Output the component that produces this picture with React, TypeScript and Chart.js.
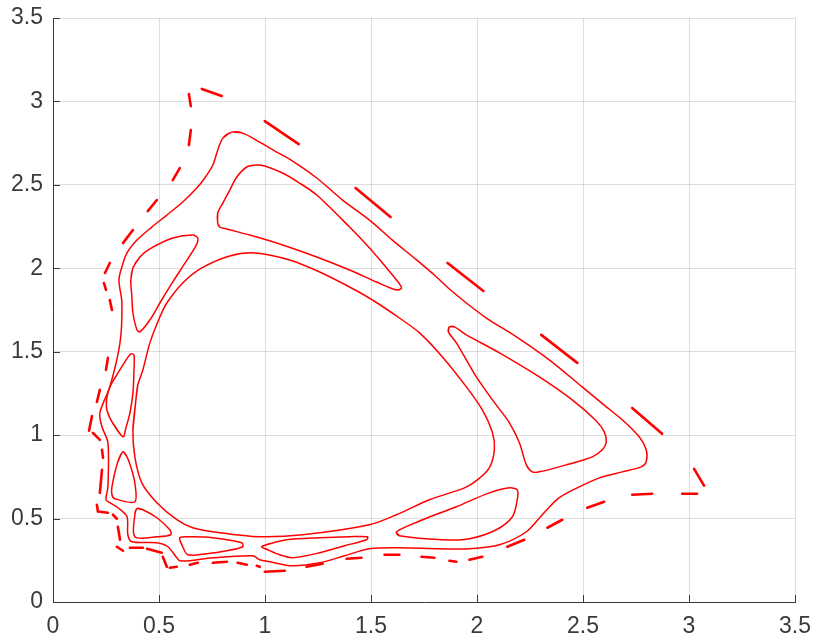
import React, { useEffect, useRef } from "react";
import { Chart, registerables } from "chart.js";

Chart.register(...registerables);

const xTicks = [0, 0.5, 1, 1.5, 2, 2.5, 3, 3.5];
const yTicks = [0, 0.5, 1, 1.5, 2, 2.5, 3, 3.5];

// outer continuous orbit
const outerX = [0.843,0.895,0.975,1.055,1.116,1.244,1.366,1.493,1.601,1.715,1.809,1.870,1.950,2.044,2.186,2.341,2.496,2.610,2.685,2.765,2.798,2.798,2.774,2.685,2.577,2.482,2.388,2.308,2.233,2.106,1.964,1.823,1.634,1.493,1.375,1.258,1.130,1.022,0.975,0.942,0.754,0.645,0.598,0.584,0.542,0.490,0.372,0.353,0.349,0.306,0.268,0.250,0.259,0.259,0.231,0.221,0.268,0.316,0.325,0.311,0.325,0.349,0.396,0.466,0.537,0.612,0.678,0.716,0.754,0.777,0.801];
const outerY = [2.816,2.810,2.756,2.696,2.654,2.541,2.409,2.289,2.169,2.050,1.948,1.876,1.792,1.702,1.589,1.451,1.289,1.169,1.092,0.990,0.912,0.840,0.810,0.780,0.744,0.690,0.625,0.523,0.421,0.343,0.319,0.319,0.325,0.319,0.277,0.235,0.217,0.241,0.253,0.277,0.265,0.247,0.247,0.265,0.331,0.355,0.361,0.403,0.511,0.565,0.595,0.613,0.690,0.954,1.050,1.134,1.289,1.553,1.792,1.930,2.008,2.092,2.169,2.247,2.319,2.397,2.481,2.541,2.619,2.708,2.780];

// central loop
const centerX = [0.391,0.400,0.424,0.457,0.504,0.537,0.612,0.702,0.834,0.951,1.116,1.258,1.399,1.507,1.634,1.729,1.837,1.950,2.025,2.073,2.082,2.058,2.002,1.941,1.776,1.620,1.493,1.178,0.975,0.787,0.659,0.584,0.490,0.419,0.386,0.377];
const centerY = [1.211,1.301,1.391,1.553,1.708,1.792,1.912,2.002,2.074,2.092,2.050,1.978,1.888,1.810,1.702,1.613,1.469,1.289,1.152,1.014,0.912,0.804,0.732,0.684,0.613,0.523,0.463,0.403,0.391,0.415,0.445,0.493,0.595,0.714,0.870,1.032];

// islands
const topIslandX = [0.777,0.777,0.801,0.834,0.867,0.914,0.961,0.999,1.083,1.163,1.244,1.399,1.493,1.554,1.620,1.644,1.620,1.526,1.399,1.244,1.083,0.928,0.820,0.787];
const topIslandY = [2.271,2.331,2.391,2.469,2.547,2.607,2.619,2.613,2.571,2.511,2.439,2.247,2.122,2.032,1.930,1.882,1.870,1.918,1.990,2.068,2.140,2.199,2.235,2.247];

const rightIslandX = [1.870,1.894,1.950,2.106,2.294,2.449,2.562,2.600,2.610,2.591,2.544,2.421,2.294,2.261,2.233,2.200,2.153,2.073,1.997,1.903,1.865];
const rightIslandY = [1.649,1.649,1.601,1.493,1.349,1.211,1.086,1.020,0.960,0.912,0.870,0.822,0.780,0.780,0.822,0.954,1.074,1.211,1.349,1.553,1.619];

const bottomRightX = [1.620,1.743,1.903,2.058,2.153,2.190,2.190,2.167,2.091,1.964,1.837,1.634];
const bottomRightY = [0.421,0.493,0.571,0.654,0.684,0.672,0.613,0.511,0.433,0.379,0.373,0.397];

const bottomMidX = [0.984,1.022,1.102,1.258,1.399,1.484,1.479,1.375,1.258,1.130,1.069,1.013];
const bottomMidY = [0.331,0.349,0.373,0.385,0.391,0.391,0.373,0.337,0.295,0.265,0.283,0.313];

const bottomLeftX = [0.598,0.612,0.636,0.725,0.820,0.895,0.890,0.754,0.659];
const bottomLeftY = [0.385,0.331,0.283,0.289,0.307,0.331,0.355,0.385,0.391];

const cornerX = [0.396,0.386,0.386,0.490,0.556,0.551,0.490,0.424];
const cornerY = [0.559,0.523,0.391,0.391,0.403,0.433,0.505,0.553];

const leftLowX = [0.330,0.306,0.278,0.278,0.292,0.386,0.386,0.367,0.349];
const leftLowY = [0.900,0.840,0.690,0.643,0.619,0.601,0.714,0.810,0.870];

const leftMidX = [0.330,0.278,0.254,0.254,0.268,0.301,0.339,0.367,0.382,0.382,0.377,0.363,0.344];
const leftMidY = [0.990,1.080,1.152,1.223,1.289,1.361,1.439,1.487,1.481,1.391,1.253,1.134,1.044];

const leftTopX = [0.377,0.410,0.457,0.565,0.659,0.683,0.674,0.617,0.565,0.504,0.457,0.410,0.396,0.377,0.372,0.367];
const leftTopY = [2.002,2.068,2.116,2.181,2.199,2.181,2.134,2.020,1.918,1.792,1.690,1.619,1.631,1.732,1.828,1.930];

// scattered outer orbit (short pieces)
const dashX0 = [0.702,0.641,0.650,0.598,0.490,0.377,0.268,0.240,0.268,0.259,0.221,0.184,0.188,0.231,0.231,0.207,0.221,0.283,0.306,0.301,0.363,0.443,0.518,0.551,0.645,0.754,0.871,0.961,0.999,1.196,1.385,1.564,1.738,1.870,1.964,2.143,2.332,2.520,2.732,2.968,3.024,2.732,2.303,1.861,1.427,0.999];
const dashY0 = [3.075,3.044,2.828,2.600,2.409,2.229,2.032,1.912,1.810,1.463,1.271,1.115,1.014,0.912,0.792,0.583,0.541,0.523,0.451,0.331,0.325,0.319,0.271,0.205,0.223,0.235,0.235,0.217,0.181,0.211,0.259,0.283,0.271,0.247,0.253,0.331,0.445,0.565,0.643,0.649,0.798,1.163,1.601,2.032,2.481,2.882];
const dashX1 = [0.796,0.650,0.641,0.565,0.447,0.330,0.245,0.250,0.278,0.250,0.207,0.170,0.221,0.236,0.221,0.212,0.259,0.301,0.316,0.330,0.424,0.513,0.537,0.584,0.683,0.820,0.914,0.975,1.093,1.272,1.455,1.634,1.799,1.903,2.025,2.223,2.402,2.600,2.826,3.038,3.071,2.873,2.473,2.030,1.592,1.159];
const dashY1 = [3.033,2.972,2.738,2.528,2.343,2.151,1.972,1.870,1.750,1.391,1.199,1.026,0.972,0.864,0.654,0.541,0.535,0.499,0.373,0.307,0.325,0.295,0.211,0.211,0.235,0.241,0.223,0.211,0.187,0.229,0.265,0.283,0.265,0.241,0.271,0.373,0.493,0.601,0.649,0.649,0.697,1.008,1.433,1.864,2.307,2.744];

const closedLoops: [number[], number[]][] = [
  [outerX, outerY],
  [centerX, centerY],
  [topIslandX, topIslandY],
  [rightIslandX, rightIslandY],
  [bottomRightX, bottomRightY],
  [bottomMidX, bottomMidY],
  [bottomLeftX, bottomLeftY],
  [cornerX, cornerY],
  [leftLowX, leftLowY],
  [leftMidX, leftMidY],
  [leftTopX, leftTopY],
];

const RED = "#ff0000";
const AXIS = "#3a3a3a";
const FONT = "'Liberation Sans', Arial, sans-serif";

export default function App() {
  const ref = useRef<HTMLCanvasElement | null>(null);

  useEffect(() => {
    if (!ref.current) return;
    const datasets: any[] = [];
    closedLoops.forEach(([xs, ys]) => {
      const n = xs.length;
      const pts = xs.map((x, i) => ({ x, y: ys[i] }));
      // wrap around so the closing joint is smoothed like the rest of the loop
      const data = [{ x: xs[n - 1], y: ys[n - 1] }, ...pts, pts[0], pts[1]];
      datasets.push({
        data,
        showLine: true,
        borderColor: RED,
        borderWidth: 1.5,
        pointRadius: 0,
        tension: 0.3,
        fill: false,
      });
    });
    dashX0.forEach((x, i) => {
      datasets.push({
        data: [
          { x, y: dashY0[i] },
          { x: dashX1[i], y: dashY1[i] },
        ],
        showLine: true,
        borderColor: RED,
        borderWidth: 2.6,
        pointRadius: 0,
        borderCapStyle: "round",
        fill: false,
      });
    });

    const innerTicks = {
      id: "innerTicks",
      afterDraw(chart: any) {
        const { ctx, chartArea, scales } = chart;
        ctx.save();
        ctx.strokeStyle = AXIS;
        ctx.lineWidth = 1;
        xTicks.forEach((v) => {
          const px = Math.round(scales.x.getPixelForValue(v)) + 0.5;
          ctx.beginPath();
          ctx.moveTo(px, chartArea.bottom);
          ctx.lineTo(px, chartArea.bottom - 7);
          ctx.stroke();
        });
        yTicks.forEach((v) => {
          const py = Math.round(scales.y.getPixelForValue(v)) + 0.5;
          ctx.beginPath();
          ctx.moveTo(chartArea.left, py);
          ctx.lineTo(chartArea.left + 7, py);
          ctx.stroke();
        });
        ctx.restore();
      },
    };

    const fmt = (v: any) => String(Number(v));

    const chart = new Chart(ref.current, {
      type: "scatter",
      data: { datasets },
      plugins: [innerTicks],
      options: {
        animation: false,
        responsive: true,
        maintainAspectRatio: false,
        layout: { padding: { top: 18, right: 21, left: 0, bottom: 0 } },
        plugins: { legend: { display: false }, tooltip: { enabled: false } },
        scales: {
          x: {
            type: "linear",
            min: 0,
            max: 3.5,
            afterFit: (s: any) => {
              s.height = 37;
              s.paddingLeft = 0;
              s.paddingRight = 0;
            },
            afterBuildTicks: (s: any) => {
              s.ticks = xTicks.map((v) => ({ value: v }));
            },
            ticks: {
              color: AXIS,
              font: { family: FONT, size: 23 },
              padding: 11,
              maxRotation: 0,
              callback: fmt,
            },
            grid: { color: "rgba(0,0,0,0.13)", drawTicks: false, lineWidth: 1 },
            border: { display: true, color: AXIS, width: 1 },
          },
          y: {
            type: "linear",
            min: 0,
            max: 3.5,
            afterFit: (s: any) => {
              s.width = 53;
              s.paddingTop = 0;
              s.paddingBottom = 0;
            },
            afterBuildTicks: (s: any) => {
              s.ticks = yTicks.map((v) => ({ value: v }));
            },
            ticks: {
              color: AXIS,
              font: { family: FONT, size: 23 },
              padding: 10,
              callback: fmt,
            },
            grid: { color: "rgba(0,0,0,0.13)", drawTicks: false, lineWidth: 1 },
            border: { display: true, color: AXIS, width: 1 },
          },
        },
      },
    });
    return () => chart.destroy();
  }, []);

  return (
    <div style={{ position: "absolute", left: 0, top: 0, width: 816, height: 639, background: "#fff" }}>
      <canvas ref={ref} />
    </div>
  );
}
